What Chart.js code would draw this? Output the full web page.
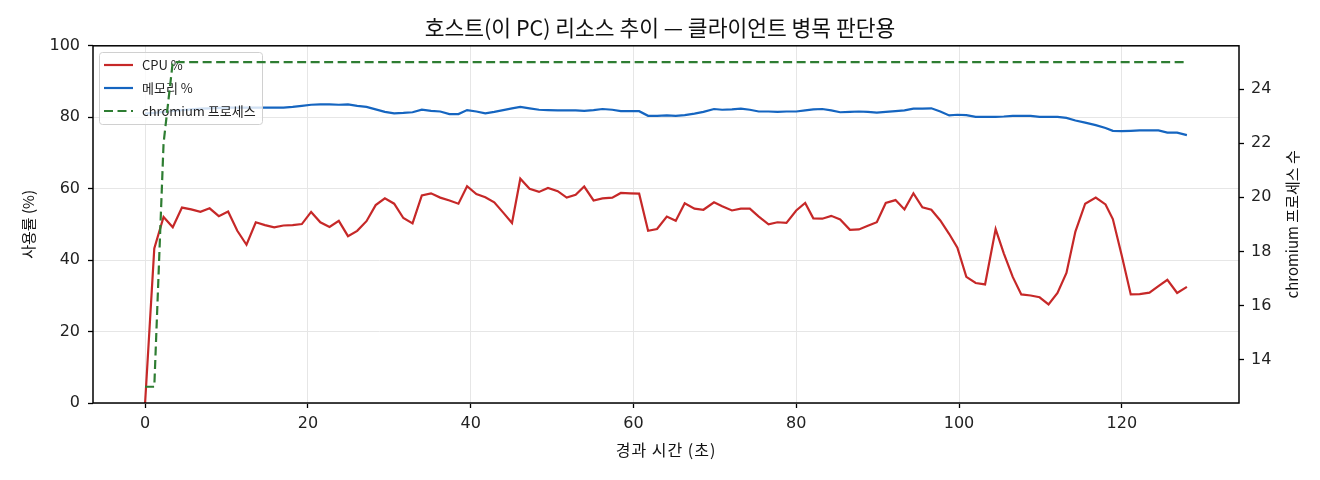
<!DOCTYPE html>
<html><head><meta charset="utf-8">
<script src="https://cdn.jsdelivr.net/npm/chart.js@4.4.1/dist/chart.umd.min.js"></script>
<style>html,body{margin:0;padding:0;background:#fff}#wrap{width:1320px;height:480px}</style>
</head><body><div id="wrap"><canvas id="c" width="1320" height="480"></canvas></div>
<script>
const timeSec = [0,1.13,2.27,3.4,4.53,5.66,6.8,7.93,9.06,10.2,11.33,12.46,13.6,14.73,15.86,17.0,18.13,19.26,20.4,21.53,22.66,23.8,24.93,26.06,27.2,28.33,29.46,30.6,31.73,32.86,34.0,35.13,36.26,37.4,38.5,39.56,40.7,41.8,42.9,44.0,45.08,46.1,47.24,48.4,49.5,50.7,51.8,52.9,53.95,55.1,56.2,57.4,58.45,59.6,60.7,61.8,62.9,64.1,65.2,66.3,67.5,68.6,69.9,70.9,72.1,73.2,74.3,75.4,76.6,77.7,78.8,80.0,81.1,82.1,83.2,84.3,85.4,86.6,87.7,88.8,89.9,91.0,92.2,93.3,94.4,95.5,96.6,97.7,98.8,99.8,100.9,102.05,103.2,104.5,105.5,106.6,107.65,108.8,109.9,111.0,112.1,113.2,114.3,115.5,116.8,118.0,118.9,120.0,121.1,122.2,123.4,124.5,125.6,126.8,128.0];
const cpuPct = [0,43.3,52.1,49.2,54.7,54.2,53.5,54.5,52.3,53.6, 48.2,44.3,50.6,49.8,49.2,49.7,49.8,50.1,53.5,50.6, 49.3,51.0,46.7,48.2,50.9,55.4,57.3,55.8,51.8,50.3, 58.1,58.7,57.5,56.7,55.8,60.7,58.5,57.6,56.2,53.3, 50.4,62.8,60.0,59.1,60.2,59.3,57.5,58.3,60.6,56.7, 57.3,57.5,58.8,58.7,58.6,48.2,48.7,52.2,51.0,55.9, 54.4,54.1,56.2,55.1,53.9,54.4,54.4,52.2,50.0,50.6, 50.4,53.9,56.0,51.7,51.6,52.4,51.4,48.5,48.6,49.6, 50.6,56.0,56.8,54.2,58.7,54.8,54.1,51.1,47.3,43.5, 35.3,33.6,33.2,48.7,41.9,35.3,30.4,30.1,29.6,27.6, 30.8,36.4,48.0,55.8,57.5,55.6,51.5,41.2,30.4,30.5, 30.9,32.7,34.5,30.8,32.5];
const memPct = [81.0,81.2,81.5,81.8,82.0,82.2,82.4,82.5,82.6,82.7, 82.7,82.7,82.7,82.7,82.7,82.7,82.9,83.2,83.5,83.6, 83.6,83.5,83.6,83.2,82.9,82.2,81.5,81.1,81.2,81.4, 82.1,81.8,81.6,80.9,80.9,82.0,81.6,81.1,81.5,82.0, 82.5,82.9,82.5,82.1,82.0,81.9,81.9,81.9,81.8,82.0, 82.3,82.1,81.7,81.7,81.7,80.4,80.4,80.5,80.4,80.6, 81.0,81.5,82.3,82.1,82.2,82.4,82.1,81.6,81.6,81.5, 81.6,81.6,81.9,82.2,82.3,81.9,81.4,81.5,81.6,81.5, 81.3,81.5,81.7,81.9,82.4,82.4,82.5,81.6,80.5,80.7, 80.6,80.1,80.1,80.1,80.2,80.4,80.4,80.4,80.1,80.1, 80.1,79.8,79.1,78.5,77.8,77.0,76.2,76.1,76.2,76.3, 76.3,76.3,75.7,75.7,75.0];
const chromiumProcs = [13,13,22,25,25,25,25,25,25,25, 25,25,25,25,25,25,25,25,25,25, 25,25,25,25,25,25,25,25,25,25, 25,25,25,25,25,25,25,25,25,25, 25,25,25,25,25,25,25,25,25,25, 25,25,25,25,25,25,25,25,25,25, 25,25,25,25,25,25,25,25,25,25, 25,25,25,25,25,25,25,25,25,25, 25,25,25,25,25,25,25,25,25,25, 25,25,25,25,25,25,25,25,25,25, 25,25,25,25,25,25,25,25,25,25, 25,25,25,25,25];

const xTicks = [0,20,40,60,80,100,120];
const yTicks = [0,20,40,60,80,100];
const y2Ticks = [14,16,18,20,22,24];
const titleText = '호스트(이 PC) 리소스 추이 — 클라이언트 병목 판단용';
const xTitle = '경과 시간 (초)';
const yTitle = '사용률 (%)';
const y2Title = 'chromium 프로세스 수';
const seriesNames = ['CPU %','메모리 %','chromium 프로세스'];
const seriesColors = ['#c62828','#1565c0','#2e7d32'];

const FONT = "'Noto Sans CJK KR', 'Noto Sans', sans-serif";
const TICKFONT = "'DejaVu Sans', 'Noto Sans', sans-serif";
Chart.defaults.font.family = FONT;
Chart.defaults.color = '#222';

const pts = (ys) => timeSec.map((t, i) => ({x: t, y: ys[i]}));
const setTicks = (arr) => (s) => { s.ticks = arr.map(v => ({value: v})); };

const boxPlugin = {
  id: 'box',
  beforeDatasetDraw(chart, args) {
    if (args.index !== 2) return;
    const ctx = chart.ctx;
    ctx.save();
    const bx = 99.5, by = 52.5, bw = 163, bh = 72, r = 3;
    ctx.beginPath();
    ctx.roundRect(bx, by, bw, bh, r);
    ctx.fillStyle = 'rgba(255,255,255,0.8)';
    ctx.fill();
    ctx.strokeStyle = '#d0d0d0';
    ctx.lineWidth = 1;
    ctx.stroke();
    const rows = [65, 88, 111];
    ctx.font = "13px " + FONT;
    ctx.textBaseline = 'middle';
    ctx.textAlign = 'left';
    rows.forEach((ry, i) => {
      ctx.beginPath();
      ctx.setLineDash(i === 2 ? [9, 4.5] : []);
      ctx.strokeStyle = seriesColors[i];
      ctx.lineWidth = 2.2;
      ctx.moveTo(104, ry); ctx.lineTo(133, ry);
      ctx.stroke();
      ctx.setLineDash([]);
      ctx.fillStyle = '#222';
      ctx.fillText(seriesNames[i], 142, ry);
    });
    ctx.restore();
  },
  afterDraw(chart) {
    const a = chart.chartArea, ctx = chart.ctx;
    ctx.save();
    ctx.strokeStyle = '#000';
    ctx.lineWidth = 1.5;
    ctx.strokeRect(a.left, a.top, a.right - a.left, a.bottom - a.top);
    ctx.fillStyle = '#111';
    ctx.textAlign = 'center';
    ctx.textBaseline = 'middle';
    const cy = (a.top + a.bottom) / 2;
    // x title
    ctx.font = "16px " + FONT;
    ctx.letterSpacing = '1px';
    ctx.fillText(xTitle, (a.left + a.right) / 2, 450);
    ctx.letterSpacing = '0px';
    // left y title
    ctx.font = "15px " + FONT;
    ctx.save();
    ctx.translate(28, cy);
    ctx.rotate(-Math.PI / 2);
    ctx.fillText(yTitle, 0, 0);
    ctx.restore();
    // right y title
    ctx.save();
    ctx.translate(1292, cy);
    ctx.rotate(-Math.PI / 2);
    ctx.fillText(y2Title, 0, 0);
    ctx.restore();
    ctx.restore();
  }
};

new Chart(document.getElementById('c'), {
  type: 'line',
  data: {
    datasets: [
      {label: seriesNames[0], data: pts(cpuPct), yAxisID: 'y', borderColor: seriesColors[0], borderWidth: 2.2, pointRadius: 0, tension: 0, order: 3},
      {label: seriesNames[1], data: pts(memPct), yAxisID: 'y', borderColor: seriesColors[1], borderWidth: 2.2, pointRadius: 0, tension: 0, order: 2},
      {label: seriesNames[2], data: pts(chromiumProcs), yAxisID: 'y2', borderColor: seriesColors[2], borderWidth: 2.2, borderDash: [9, 4.5], pointRadius: 0, tension: 0, order: 1}
    ]
  },
  options: {
    responsive: false,
    animation: false,
    devicePixelRatio: 1,
    layout: {padding: 0},
    plugins: {
      legend: {display: false},
      tooltip: {enabled: false},
      title: {display: true, text: titleText, color: '#111', font: {size: 21.5, weight: 'normal', lineHeight: 1.2}, padding: {top: 15, bottom: 5}}
    },
    scales: {
      x: {
        type: 'linear', min: -6.4, max: 134.4,
        afterBuildTicks: setTicks(xTicks),
        afterFit: (s) => { s.height = 77; },
        grid: {color: '#e6e6e6', lineWidth: 1, tickColor: '#000', tickLength: 5, tickWidth: 1.3},
        border: {display: false},
        ticks: {font: {size: 16, family: TICKFONT}, padding: 6, maxRotation: 0, color: '#222'},
        title: {display: false}
      },
      y: {
        type: 'linear', position: 'left', min: 0, max: 100,
        afterBuildTicks: setTicks(yTicks),
        afterFit: (s) => { s.width = 93; },
        grid: {color: '#e6e6e6', lineWidth: 1, tickColor: '#000', tickLength: 5, tickWidth: 1.3},
        border: {display: false},
        ticks: {font: {size: 16, family: TICKFONT}, padding: 8, color: '#222'},
        title: {display: false}
      },
      y2: {
        type: 'linear', position: 'right', min: 12.4, max: 25.6,
        afterBuildTicks: setTicks(y2Ticks),
        afterFit: (s) => { s.width = 81; },
        grid: {drawOnChartArea: false, tickColor: '#000', tickLength: 5, tickWidth: 1.3},
        border: {display: false},
        ticks: {font: {size: 16, family: TICKFONT}, padding: 7, color: '#222'},
        title: {display: false}
      }
    }
  },
  plugins: [boxPlugin]
});
</script>
</body></html>
